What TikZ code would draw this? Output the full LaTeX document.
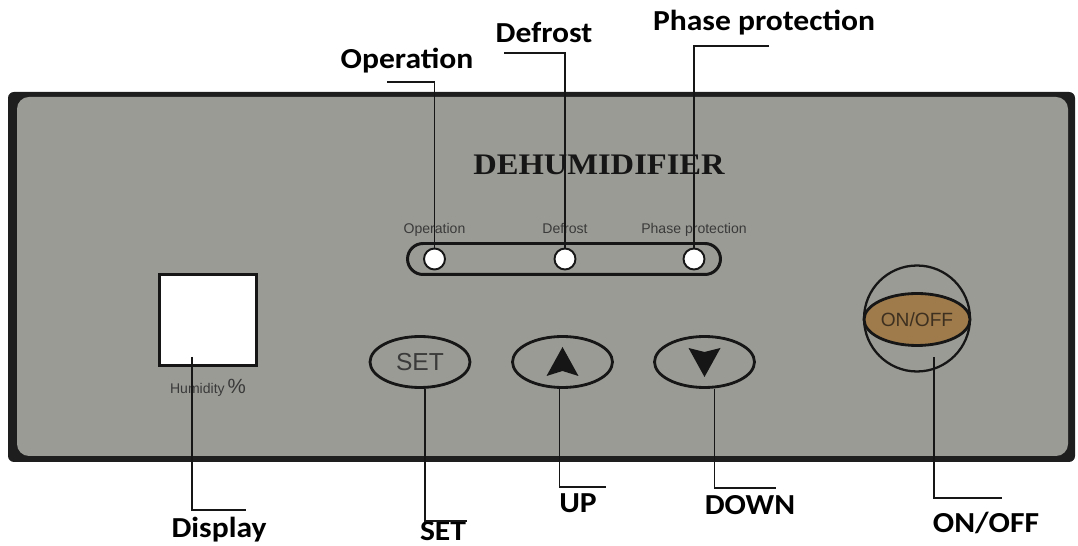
\documentclass[tikz,border=0pt]{standalone}
\usepackage{fontspec}
\usepackage{xcolor}
\usetikzlibrary{positioning, calc, shapes.geometric}

\newfontfamily\lblfont[FakeStretch=1.09]{Carlito}
\newfontfamily\serfont[FakeStretch=1.09]{Liberation Serif}
\newfontfamily\panfont{Liberation Sans}

\definecolor{panelgray}{RGB}{155,155,150}
\definecolor{paneldark}{RGB}{30,30,30}
\definecolor{ink}{RGB}{22,22,22}
\definecolor{btntext}{RGB}{58,58,58}
\definecolor{knob}{RGB}{159,123,75}
\definecolor{knobtext}{RGB}{62,48,32}

\begin{document}
\begin{tikzpicture}[
x=0.02cm, y=-0.02cm,
node distance=0mm,
led/.style={circle, draw=ink, fill=white, line width=1.1pt, minimum size=0.42cm, inner sep=0pt},
ledtext/.style={font=\panfont\fontsize{8}{9}\selectfont, text=btntext, inner sep=0pt, text depth=0pt},
btn/.style={ellipse, draw=ink, line width=1.6pt, minimum width=2cm, minimum height=1.02cm, inner sep=0pt,
  font=\panfont\fontsize{14}{16}\selectfont, text=btntext},
lbl/.style={font=\lblfont\bfseries\fontsize{16.5}{19}\selectfont, anchor=base, inner sep=0pt},
leader/.style={draw=ink, line width=0.8pt}
]
\useasboundingbox (0,0) rectangle (1078,546);

% panel
\fill[paneldark, rounded corners=0.12cm] (8,92) rectangle (1075,462);
\fill[panelgray, rounded corners=0.24cm] (17,97) rectangle (1068,456);

\node[font=\serfont\bfseries\fontsize{17}{20}\selectfont, text=ink] (title) at (599,165) {DEHUMIDIFIER};

% indicator strip
\node[draw=ink, line width=1.7pt, rounded corners=0.31cm, minimum width=6.26cm, minimum height=0.62cm, inner sep=0pt] (strip) at (564,259) {};
\node[led] (op) at (434.5,259) {};
\node[led] (df) at (565,259) {};
\node[led] (ph) at (694,259) {};

\node[ledtext, above=0.28cm of op] (sop) {Operation};
\node[ledtext, above=0.28cm of df] (sdf) {Defrost};
\node[ledtext, above=0.28cm of ph] (sph) {Phase protection};

% display
\node[draw=ink, fill=white, line width=1.7pt, minimum width=1.94cm, minimum height=1.82cm, inner sep=0pt] (disp) at (208,320) {};
\node[below=0.24cm of disp, inner sep=0pt, text=btntext, font=\panfont] (hum) {{\fontsize{8}{9}\selectfont Humidity}\,{\fontsize{11.7}{13}\selectfont\%}};

% buttons
\node[btn] (set) at (420,362) {SET};
\node[btn] (up) at (562.5,362) {};
\node[btn] (dn) at (704.5,362) {};
\fill[ink] ($(up)+(0,-15)$) -- ($(up)+(-16,14)$) -- ($(up)+(0,9)$) -- ($(up)+(16,14)$) -- cycle;
\fill[ink] ($(dn)+(0,15)$) -- ($(dn)+(-16,-14)$) -- ($(dn)+(0,-10)$) -- ($(dn)+(16,-14)$) -- cycle;

% power switch
\node[circle, draw=ink, line width=1.3pt, minimum size=2.12cm, inner sep=0pt] (pw) at (917,318.5) {};
\node[ellipse, draw=ink, fill=knob, line width=1.6pt, minimum width=2.12cm, minimum height=1.04cm, inner sep=0pt,
  font=\panfont\fontsize{10.9}{12}\selectfont, text=knobtext] (onoff) at (917,319.5) {ON/OFF};

% callouts
\node[lbl] (lop) at (407,69) {Operation};
\node[lbl] (ldf) at (544,43) {Defrost};
\node[lbl] (lph) at (764,31) {Phase protection};
\node[lbl] (ldisp) at (219,538) {Display};
\node[lbl] (lset) at (443,541) {SET};
\node[lbl] (lup) at (578,513) {UP};
\node[lbl] (ldn) at (750,515) {DOWN};
\node[lbl] (lon) at (986,533) {ON/OFF};

\coordinate (opa) at (387,82);
\coordinate (dfa) at (504,53);
\coordinate (pha) at (769,46);
\coordinate (dpa) at (246,510);
\coordinate (sta) at (467,521);
\coordinate (upa) at (606,487);
\coordinate (dna) at (776,488);
\coordinate (ona) at (1002,498);

\draw[leader] (opa) -| (op.north);
\draw[leader] (dfa) -| (df.north);
\draw[leader] (pha) -| (ph.north);
\draw[leader] ($(disp.south)+(-16,-10)$) |- (dpa);
\draw[leader] ($(set.south)+(5,0)$) |- (sta);
\draw[leader] ($(up.south)+(-3,0)$) |- (upa);
\draw[leader] ($(dn.south)+(10,0)$) |- (dna);
\draw[leader] ($(onoff.center)+(17,38)$) |- (ona);

\end{tikzpicture}
\end{document}
